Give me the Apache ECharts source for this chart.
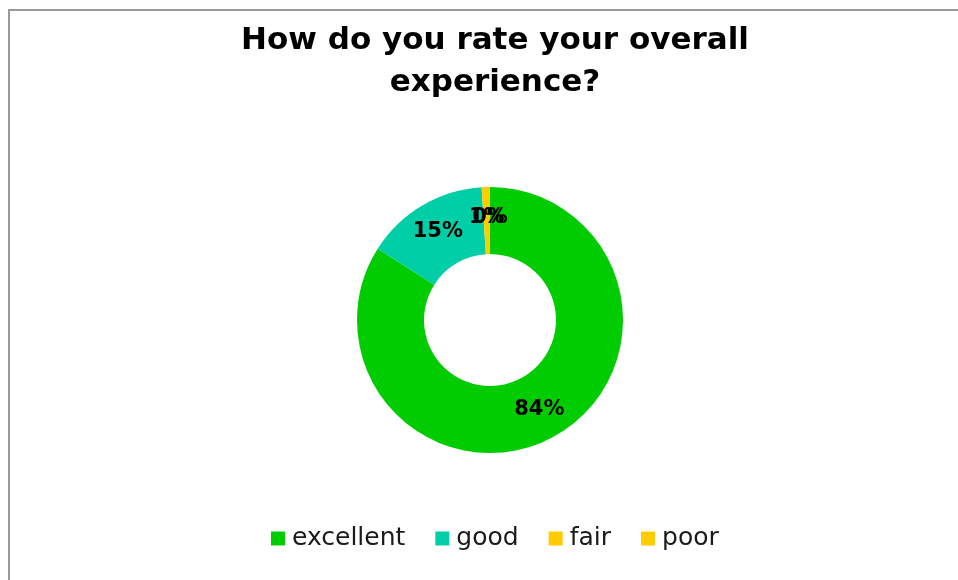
<!DOCTYPE html>
<html>
<head>
<meta charset="utf-8">
<script src="https://cdn.jsdelivr.net/npm/echarts@6/dist/echarts.min.js"></script>
<style>
html,body{margin:0;padding:0;background:#fff;}
#main{width:958px;height:580px;}
</style>
</head>
<body>
<div id="main"></div>
<script>
const titleText = "How do you rate your overall\nexperience?";
const categories = ["excellent", "good", "fair", "poor"];
const values = [84, 15, 1, 0];
const colors = ["#00CC00", "#00CEA6", "#FFCC00", "#FFCC00"];

const chart = echarts.init(document.getElementById('main'));
chart.setOption({
  animation: false,
  backgroundColor: '#ffffff',
  graphic: [{
    type: 'rect',
    shape: { x: 9, y: 10, width: 960, height: 600 },
    style: { fill: 'none', stroke: '#9a9a9a', lineWidth: 2 },
    silent: true
  }],
  title: {
    text: titleText,
    left: 490,
    textAlign: 'center',
    top: 15,
    textStyle: {
      fontFamily: 'DejaVu Sans',
      fontWeight: 'bold',
      fontSize: 31,
      lineHeight: 42,
      color: '#000'
    }
  },
  legend: {
    data: categories,
    bottom: 24,
    left: 266,
    icon: 'rect',
    itemWidth: 14,
    itemHeight: 14,
    itemGap: 30,
    textStyle: { fontFamily: 'DejaVu Sans', fontSize: 25, color: '#1a1a1a', padding: [0, 0, 0, 2] }
  },
  series: [{
    type: 'pie',
    center: [490, 320],
    radius: [66, 133],
    startAngle: 90,
    clockwise: true,
    minAngle: 0.01,
    minShowLabelAngle: 0,
    avoidLabelOverlap: false,
    stillShowZeroSum: true,
    label: {
      show: true,
      position: 'inside',
      formatter: p => p.value + '%',
      fontFamily: 'DejaVu Sans',
      fontWeight: 'bold',
      fontSize: 21,
      color: '#000'
    },
    labelLayout: { hideOverlap: false },
    labelLine: { show: false },
    itemStyle: { borderWidth: 0 },
    data: categories.map((c, i) => ({ name: c, value: values[i], itemStyle: { color: colors[i] } }))
  }]
});
</script>
</body>
</html>
